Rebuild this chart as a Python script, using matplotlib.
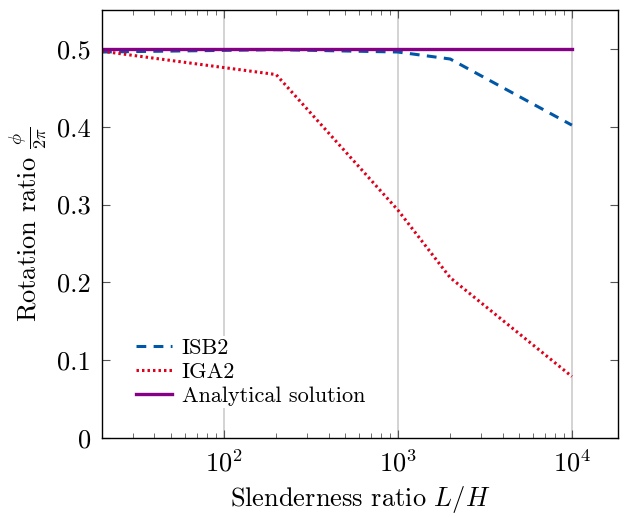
import numpy as np
import matplotlib
matplotlib.use("Agg")
import matplotlib.pyplot as plt
from matplotlib.ticker import LogLocator, NullFormatter

# data
slenderness = [20, 200, 1000, 2000, 10000]
isb2 = [0.496, 0.499, 0.496, 0.487, 0.402]
iga2 = [0.497, 0.467, 0.293, 0.206, 0.079]
analytical_x = [20, 10000]
analytical_y = [0.5, 0.5]
y_ticks = [0, 0.1, 0.2, 0.3, 0.4, 0.5]
y_tick_labels = ["0", "0.1", "0.2", "0.3", "0.4", "0.5"]

plt.rcParams["font.family"] = "serif"
plt.rcParams["font.serif"] = ["cmr10", "DejaVu Serif"]
plt.rcParams["mathtext.fontset"] = "cm"
plt.rcParams["axes.formatter.use_mathtext"] = True

fig = plt.figure(figsize=(6.24, 5.17), dpi=100)
ax = fig.add_axes([0.1635, 0.1528, 0.8269, 0.8279])

ax.plot(slenderness, isb2, linestyle=(0, (3.2, 2.4)), color="#0057a8", lw=2.2, label="ISB2")
ax.plot(slenderness, iga2, linestyle=(0, (0.8, 1.0)), color="#e0001b", lw=2.2, label="IGA2")
ax.plot(analytical_x, analytical_y, color="#850085", lw=2.4, label="Analytical solution")

ax.set_xscale("log")
ax.set_xlim(20, 18400)
ax.set_ylim(0, 0.55)
ax.set_yticks(y_ticks)
ax.set_yticklabels(y_tick_labels)
ax.xaxis.set_major_locator(LogLocator(base=10, numticks=10))
ax.xaxis.set_minor_locator(LogLocator(base=10, subs=np.arange(2, 10), numticks=20))
ax.xaxis.set_minor_formatter(NullFormatter())

ax.grid(True, which="major", axis="x", color="#cccccc", lw=1.2)
ax.set_axisbelow(True)
ax.tick_params(which="both", direction="in", top=True, right=True, labelsize=19, color="#555555")
ax.tick_params(which="major", length=6, pad=8)
ax.tick_params(which="minor", length=3.5)
for s in ax.spines.values():
    s.set_linewidth(1.0)

ax.set_xlabel("Slenderness ratio $L/H$", fontsize=19, labelpad=6)
ax.set_ylabel(r"Rotation ratio $\frac{\phi}{2\pi}$", fontsize=19, labelpad=6)

leg = ax.legend(loc="lower left", bbox_to_anchor=(0.062, 0.07), frameon=True, fontsize=16,
                handlelength=1.6, handletextpad=0.45, labelspacing=0.2, borderaxespad=0.0,
                borderpad=0.1)
leg.get_frame().set_edgecolor("none")
leg.get_frame().set_facecolor("white")
leg.get_frame().set_alpha(1.0)

fig.savefig("out.png", dpi=100)
